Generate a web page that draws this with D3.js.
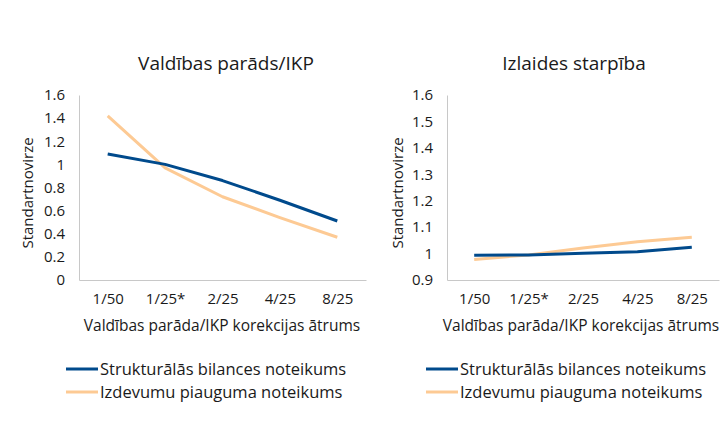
<!DOCTYPE html>
<html><head><meta charset="utf-8">
<script src="https://cdn.jsdelivr.net/npm/d3@7"></script>
<style>body{margin:0;background:#fff}svg{display:block}text{font-family:"Open Sans",sans-serif;fill:#1a1a1a}</style>
</head><body>
<svg id="c" width="724" height="440"></svg>
<script>
const categories = ["1/50","1/25*","2/25","4/25","8/25"];
const seriesNames = ["Strukturālās bilances noteikums","Izdevumu piauguma noteikums"];
const colors = ["#004a8c","#fdca94"];
const debtStructural = [1.09,1.00,0.86,0.69,0.51];
const debtExpenditure = [1.42,0.97,0.72,0.54,0.37];
const gapStructural = [0.994,0.995,1.001,1.007,1.024];
const gapExpenditure = [0.978,0.995,1.021,1.045,1.062];
const debtTicks = [0,0.2,0.4,0.6,0.8,1,1.2,1.4,1.6];
const gapTicks = [0.9,1,1.1,1.2,1.3,1.4,1.5,1.6];
const titles = ["Valdības parāds/IKP","Izlaides starpība"];
const yTitle = "Standartnovirze";
const xTitle = "Valdības parāda/IKP korekcijas ātrums";

const svg = d3.select("#c");
const panels = [
  {x0:79,x1:366,title:titles[0],tx:226,xtx:222,series:[debtStructural,debtExpenditure],dom:[0,1.6],ticks:debtTicks,ytx:28,legX:66},
  {x0:447,x1:719,title:titles[1],tx:574,xtx:581,series:[gapStructural,gapExpenditure],dom:[0.9,1.6],ticks:gapTicks,ytx:398,legX:426}
];
const yTop=95, yBot=280;
panels.forEach(p=>{
  const g = svg.append("g");
  const x = d3.scalePoint().domain(categories).range([p.x0,p.x1]).padding(0.5);
  const y = d3.scaleLinear().domain(p.dom).range([yBot,yTop]);
  const fmt = d=>d3.format("")(+d.toFixed(1));
  const ya = g.append("g").attr("transform",`translate(${p.x0},0)`)
    .call(d3.axisLeft(y).tickValues(p.ticks).tickSize(0).tickPadding(14).tickFormat(fmt));
  ya.select(".domain").attr("stroke","#c8c8c8");
  ya.selectAll("text").style("font-size","15px").attr("fill","#1a1a1a");
  const xa = g.append("g").attr("transform",`translate(0,${yBot})`)
    .call(d3.axisBottom(x).tickSize(0).tickPadding(13));
  xa.select(".domain").attr("stroke","#c8c8c8");
  xa.selectAll("text").style("font-size","15px").attr("fill","#1a1a1a");
  const line = d3.line().x((d,i)=>x(categories[i])).y(d=>y(d));
  [1,0].forEach(k=>{
    g.append("path").datum(p.series[k]).attr("d",line).attr("fill","none")
      .attr("stroke",colors[k]).attr("stroke-width",3).attr("stroke-linejoin","round");
  });
  g.append("text").attr("x",p.tx).attr("y",70).attr("text-anchor","middle")
    .style("font-size","19px").text(p.title);
  g.append("text").attr("transform",`translate(${p.ytx},${193}) rotate(-90)`)
    .attr("text-anchor","middle").attr("dy","0.35em").style("font-size","15px").text(yTitle);
  g.append("text").attr("x",p.xtx).attr("y",331).attr("text-anchor","middle")
    .style("font-size","15.5px").text(xTitle);
  seriesNames.forEach((n,k)=>{
    const ly = 369 + k*23;
    g.append("line").attr("x1",p.legX).attr("x2",p.legX+32).attr("y1",ly).attr("y2",ly)
      .attr("stroke",colors[k]).attr("stroke-width",3);
    g.append("text").attr("x",p.legX+34).attr("y",ly).attr("dy","0.35em")
      .style("font-size","16.5px").text(n);
  });
});
</script>
</body></html>
